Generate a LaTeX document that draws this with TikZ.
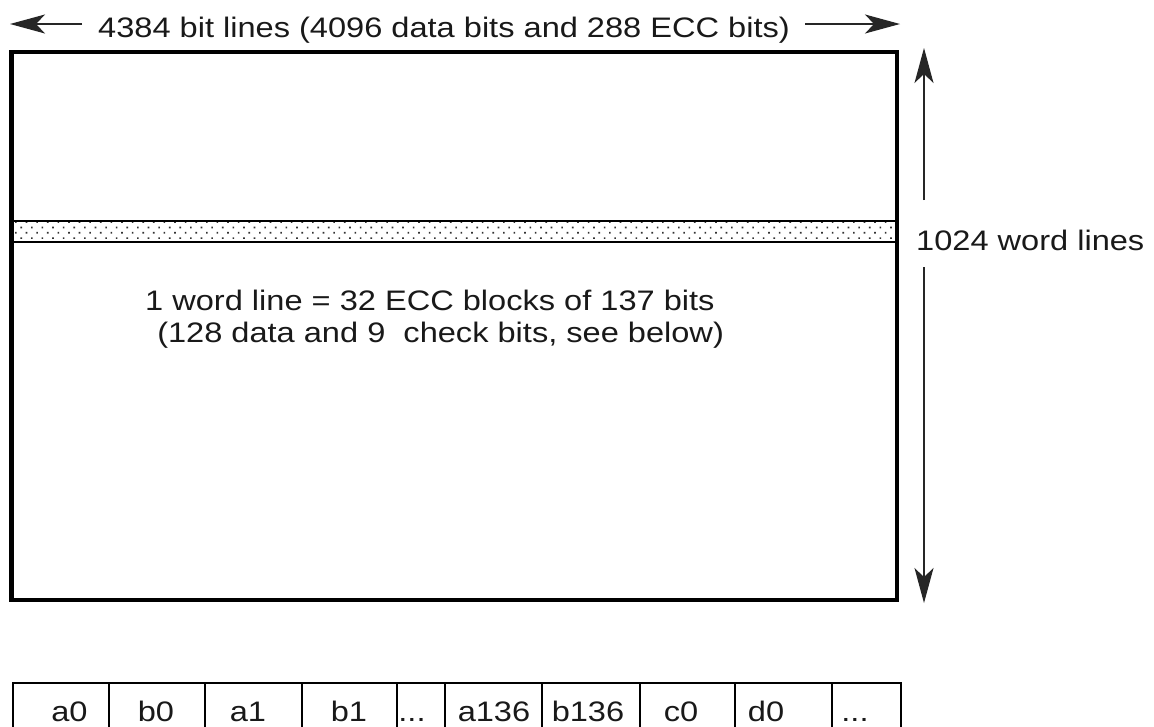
\documentclass[tikz,border=0pt]{standalone}
\usepackage{fontspec}
\setmainfont{Liberation Sans}[FakeStretch=1.155]
\usetikzlibrary{arrows.meta,patterns.meta}
\tikzset{
  lbl/.style={inner sep=0pt, text=black!90, font=\fontsize{28.2}{32}\selectfont},
  dimarrow/.style={draw=black!85, line width=1.2pt, -{Stealth[length=35pt,width=19pt,inset=9pt]}},
  frame/.style={draw=black, line width=4.8pt},
  stripe/.style={draw=black, line width=2pt, pattern={Dots[distance=7.5pt,angle=45,radius=1.15pt]}, pattern color=black!80},
  grid/.style={draw=black, line width=2pt},
}
\begin{document}
\begin{tikzpicture}[x=1pt,y=-1pt]
\clip (0,0) rectangle (1154,726);
\fill[white] (0,0) rectangle (1154,726);
% top dimension
\node[lbl, anchor=base west] (toplbl) at (98,37) {4384 bit lines (4096 data bits and 288 ECC bits)};
\coordinate (la) at (82,24);
\coordinate (lb) at (10,24);
\coordinate (ra) at (805,24);
\coordinate (rb) at (900,24);
\draw[dimarrow] (la) -- (lb);
\draw[dimarrow] (ra) -- (rb);
% main array
\draw[stripe] (11.5,221) rectangle (897,241.5);
\draw[frame] (11.5,52) rectangle (897,600);
\node[lbl, anchor=base west] (line1) at (145,310) {1 word line = 32 ECC blocks of 137 bits};
\node[lbl, anchor=base west] (line2) at (148,342) {\ (128 data and 9\ \ check bits, see below)};
% vertical dimension
\node[lbl, anchor=base west] (wl) at (916,250) {1024 word lines};
\coordinate (va) at (924,200);
\coordinate (vb) at (924,48);
\coordinate (vc) at (924,267);
\coordinate (vd) at (924,603);
\draw[dimarrow] (va) -- (vb);
\draw[dimarrow] (vc) -- (vd);
% table
\draw[grid] (13,760) -- (13,683) -- (901,683) -- (901,760);
\foreach \x in {109,205,302,397,445,542,640,735,832} {
  \draw[grid] (\x,683) -- (\x,760);
}
\node[lbl, anchor=base] (c1) at (69.5,721) {a0};
\node[lbl, anchor=base] (c2) at (156,721) {b0};
\node[lbl, anchor=base] (c3) at (248,721) {a1};
\node[lbl, anchor=base] (c4) at (349,721) {b1};
\node[lbl, anchor=base] (c5) at (412,721) {...};
\node[lbl, anchor=base] (c6) at (494,721) {a136};
\node[lbl, anchor=base] (c7) at (588,721) {b136};
\node[lbl, anchor=base] (c8) at (681,721) {c0};
\node[lbl, anchor=base] (c9) at (766,721) {d0};
\node[lbl, anchor=base] (c10) at (855,721) {...};
\end{tikzpicture}
\end{document}
